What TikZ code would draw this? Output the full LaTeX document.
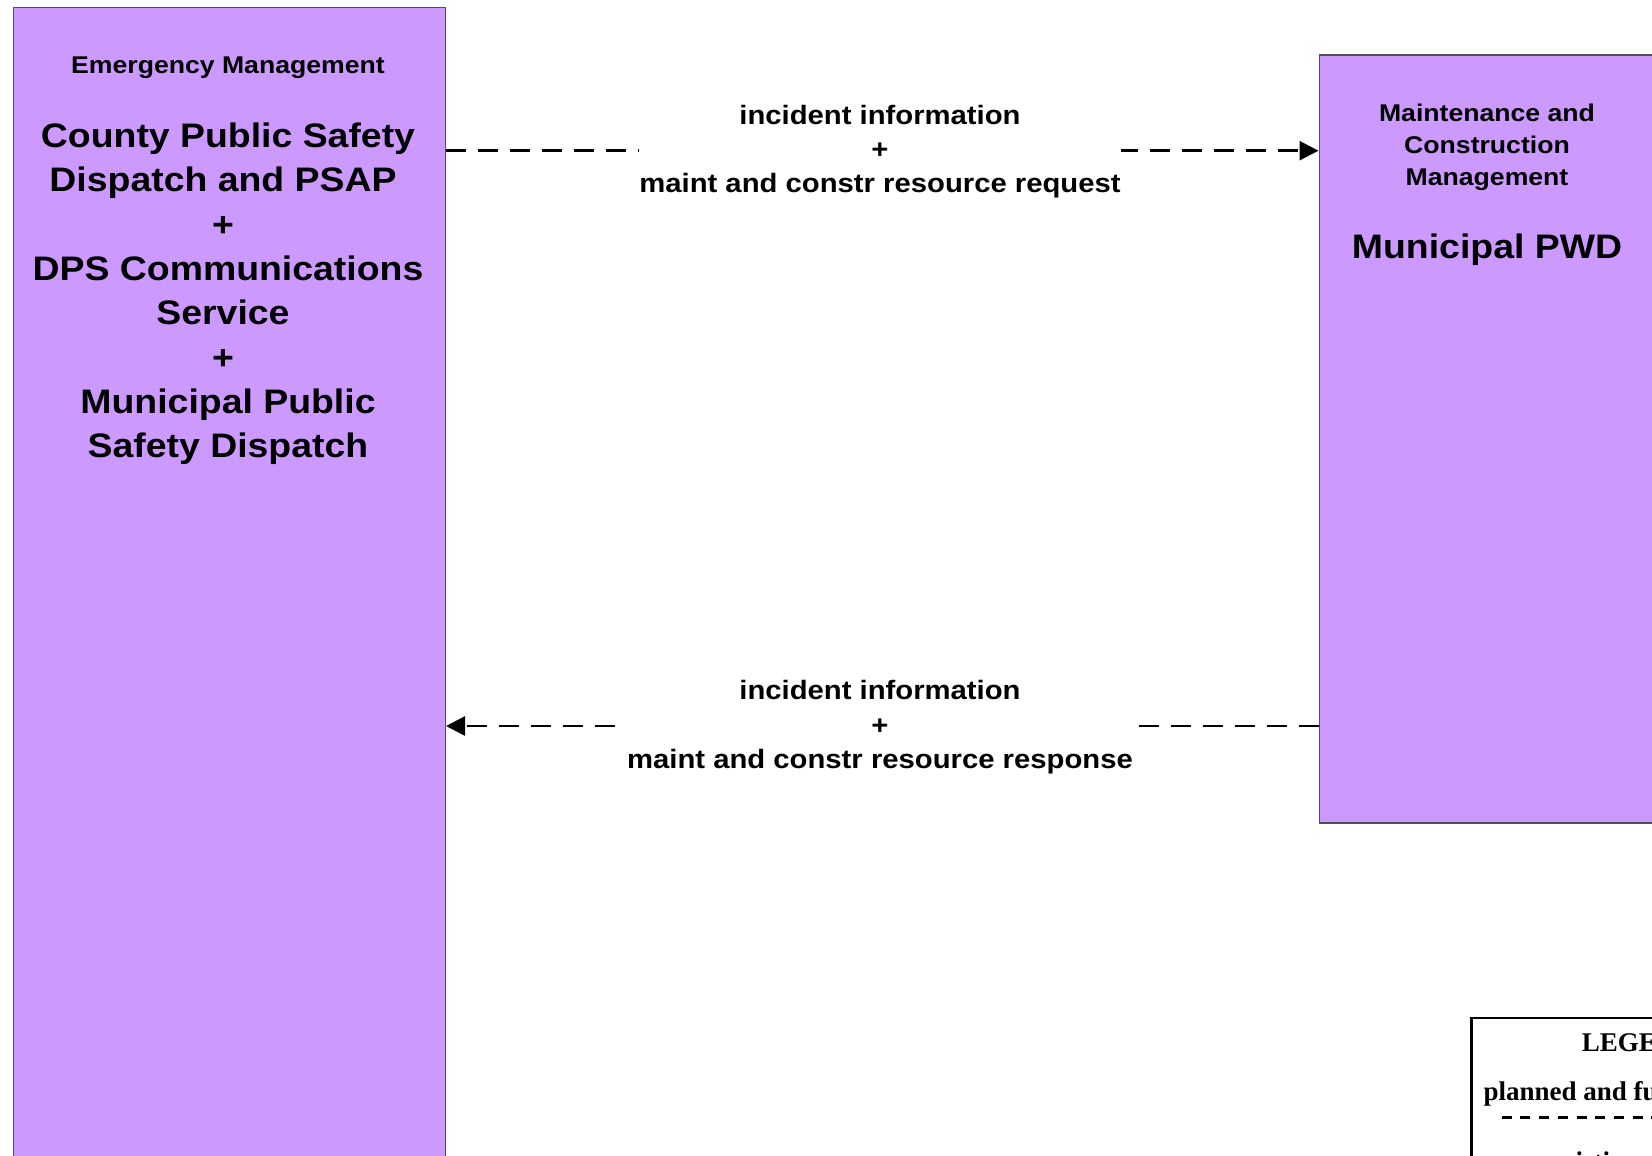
\documentclass[tikz,border=0pt]{standalone}
\usepackage{fontspec}
\newfontfamily\arialx{Liberation Sans}[FakeStretch=1.1]
\newfontfamily\timesx{Liberation Serif}
\usetikzlibrary{arrows.meta}
\definecolor{boxfill}{HTML}{CC99FF}
\definecolor{boxline}{HTML}{505050}
\setlength{\tabcolsep}{0pt}
\newcommand\stk[1]{\begin{tabular}[t]{@{}c@{}}#1\end{tabular}}
\begin{document}
\begin{tikzpicture}[x=1pt,y=-1pt,
  entity/.style={draw=boxline, line width=1.3pt, fill=boxfill, inner sep=0pt, anchor=north west},
  txt/.style={inner sep=0pt, anchor=base},
  catfont/.style={font=\arialx\bfseries\fontsize{24.2}{32}\selectfont},
  namefont/.style={font=\arialx\bfseries\fontsize{34}{44.3}\selectfont},
  flow/.style={line width=2.6pt, dash pattern=on 20pt off 12pt, -{Triangle[length=19pt,width=19pt]}},
  flowlabel/.style={fill=white, inner sep=0.5pt, anchor=base, font=\arialx\bfseries\fontsize{26.6}{34.5}\selectfont},
  legfont/.style={inner sep=0pt, anchor=base west, font=\timesx\bfseries\fontsize{27}{34}\selectfont}
]
\path[use as bounding box] (0,0) rectangle (1652,1156);
\clip (0,0) rectangle (1652,1156);
\fill[white] (0,0) rectangle (1652,1156);

% left entity
\node[entity, minimum width=432pt, minimum height=1200pt] (ems) at (12.7,7) {};
\node[txt, catfont] (emsCat) at (228,74) {Emergency Management};
\node[txt, namefont] (emsName) at (228,147.5) {\stk{County Public Safety\\Dispatch and PSAP\hspace*{10pt}\\+\hspace*{10pt}\\DPS Communications\\Service\hspace*{10pt}\\+\hspace*{10pt}\\Municipal Public\\Safety Dispatch}};

% right entity
\node[entity, minimum width=340pt, minimum height=768pt] (mcm) at (1318.5,54.3) {};
\node[txt, catfont] (mcmCat) at (1487,121.7) {\stk{Maintenance and\\Construction\\Management}};
\node[txt, namefont] (mcmName) at (1487,258) {Municipal PWD};

% flows
\coordinate (f1) at (0,150.7);
\coordinate (f2) at (0,726);
\draw[flow] (ems.east |- f1) -- (mcm.west |- f1);
\draw[flow] (mcm.west |- f2) -- (ems.east |- f2);
\node[flowlabel] (l1) at (880,124) {\stk{incident information\\+\\maint and constr resource request}};
\node[flowlabel] (l2) at (880,699.5) {\stk{incident information\\+\\maint and constr resource response}};

% legend
\node[draw=black, line width=2.7pt, inner sep=0pt, anchor=north west, minimum width=400pt, minimum height=300pt] (leg) at (1470,1016.7) {};
\node[legfont] (legT) at (1581.7,1051.7) {LEGEND};
\node[legfont] (legP) at (1483.3,1100) {planned and future};
\coordinate (legA) at (1501.7,1117);
\coordinate (legB) at (1700,1117);
\draw[line width=3pt, dash pattern=on 10pt off 8.7pt] (legA) -- (legB);
\node[legfont] (legE) at (1550,1170) {existing};
\end{tikzpicture}
\end{document}
